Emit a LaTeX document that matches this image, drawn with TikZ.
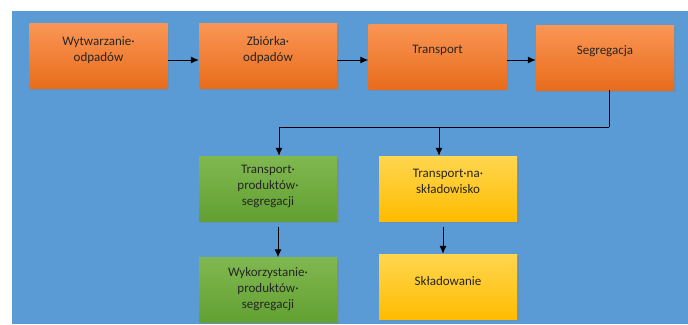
\documentclass[tikz,border=0pt]{standalone}
\usepackage{fontspec}
\setmainfont{Carlito}
\usetikzlibrary{arrows.meta,shadows}
\definecolor{bgblue}{RGB}{91,155,213}
\definecolor{orangetop}{RGB}{250,150,85}
\definecolor{orangebot}{RGB}{232,108,28}
\definecolor{greentop}{RGB}{128,184,80}
\definecolor{greenbot}{RGB}{98,160,50}
\definecolor{yellowtop}{RGB}{255,214,80}
\definecolor{yellowbot}{RGB}{255,188,0}
\tikzset{
  box/.style={minimum width=138pt,minimum height=65pt,inner sep=0pt,
    drop shadow={shadow xshift=1.5pt,shadow yshift=-1.5pt,opacity=0.35}},
  obox/.style={box,top color=orangetop,bottom color=orangebot},
  gbox/.style={box,top color=greentop,bottom color=greenbot},
  ybox/.style={box,top color=yellowtop,bottom color=yellowbot},
  txt/.style={align=center,font=\fontsize{13}{16}\selectfont,text=black!85},
  link/.style={draw=black,line width=1pt,-{Latex[length=8pt,width=7pt]}}
}
\begin{document}
\begin{tikzpicture}[x=1pt,y=-1pt]
        \useasboundingbox (0,0) rectangle (688,324);
        \fill[bgblue] (12,11) rectangle (688,324);
        % First row
        \node[obox] (wytw) at (98.5,56) {};
        \node[txt] (wytwt) at ([yshift=5.5pt]wytw.center) {Wytwarzanie·\\odpadów};
        \node[obox] (zbior) at (268,56) {};
        \node[txt] (zbiort) at ([yshift=5.5pt]zbior.center) {Zbiórka·\\odpadów};
        \node[obox] (trans) at (437.5,56.5) {};
        \node[txt] (transt) at ([yshift=6pt]trans.center) {Transport};
        \node[obox] (segr) at (605,57.5) {};
        \node[txt] (segrt) at ([yshift=6pt]segr.center) {Segregacja};
        \coordinate (row) at (0,60);
        \draw[link] (wytw.east |- row) -- (zbior.west |- row);
        \draw[link] (zbior.east |- row) -- (trans.west |- row);
        \draw[link] (trans.east |- row) -- (segr.west |- row);
        % Second row
        \node[gbox] (trprod) at (268,188.5) {};
        \node[txt] (trprodt) at ([yshift=2.5pt]trprod.center) {Transport·\\produktów·\\segregacji};
        \node[ybox] (trskl) at (448,188.5) {};
        \node[txt] (trsklt) at ([yshift=7.5pt]trskl.center) {Transport·na·\\składowisko};
        \coordinate (split) at (609,127);
        \draw[line width=1pt] ([xshift=4pt]segr.south) -- (split);
        \draw[link] (split) -| ([xshift=11pt]trprod.north);
        \draw[link] ([xshift=-9pt]trskl.north |- split) -- ([xshift=-9pt]trskl.north);
        % Third row
        \node[gbox] (wykprod) at (268,290) {};
        \node[txt] (wykprodt) at ([yshift=1pt]wykprod.center) {Wykorzystanie·\\produktów·\\segregacji};
        \node[ybox] (skl) at (448,286.5) {};
        \node[txt] (sklt) at ([yshift=5.5pt]skl.center) {Składowanie};
        \draw[link] ([xshift=10pt,yshift=-6pt]trprod.south) -- ([xshift=10pt]wykprod.north);
        \draw[link] ([xshift=-5pt,yshift=-6pt]trskl.south) -- ([xshift=-5pt]skl.north);
\end{tikzpicture}
\end{document}
